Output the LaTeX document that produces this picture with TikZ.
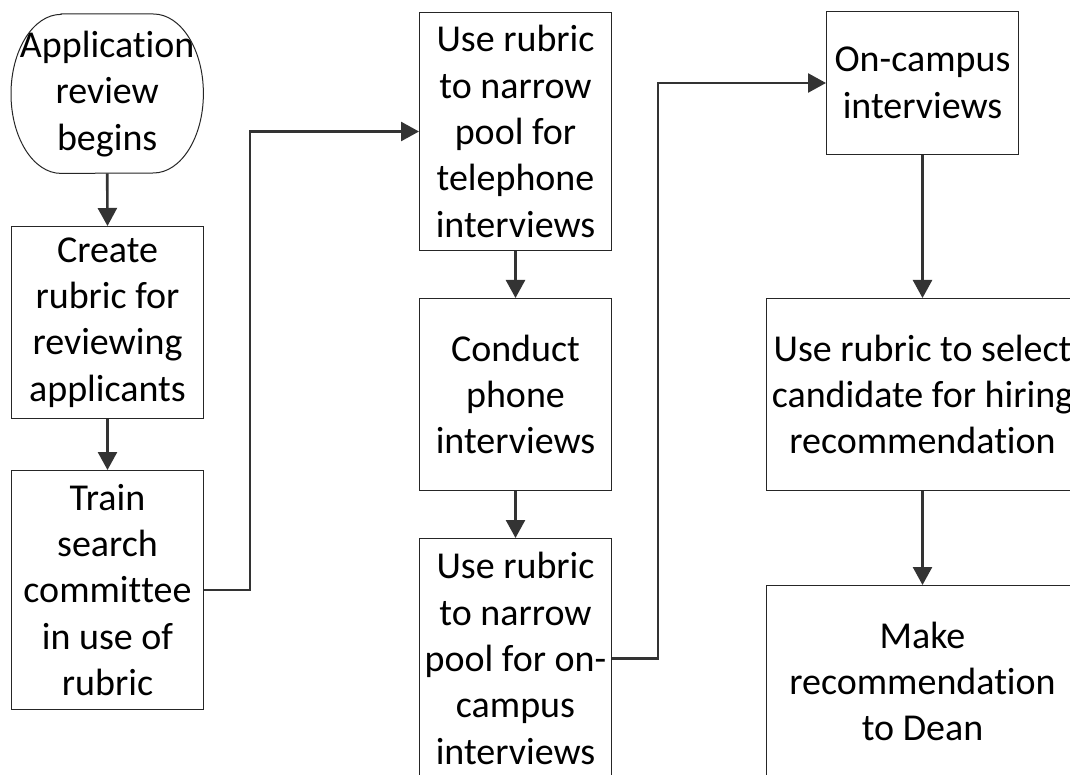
\documentclass[tikz,border=0pt]{standalone}
\usepackage{fontspec}
\setmainfont{Carlito}[Ligatures={NoCommon,NoRequired,NoContextual},Contextuals=NoAlternate]
\usetikzlibrary{arrows.meta}
\newcommand{\nolig}{\kern0pt{}}
\tikzset{
  stepbox/.style={draw=black!85, line width=1pt, rectangle, inner sep=0pt, anchor=north west,
    align=center, font=\fontsize{38pt}{46.4pt}\selectfont, text=black},
  termbox/.style={draw=none, rectangle, inner sep=0pt, anchor=north west,
    align=center, font=\fontsize{38pt}{46.4pt}\selectfont, text=black},
  termline/.style={draw=black!85, line width=1pt},
  arr/.style={draw=black!80, line width=2.6pt, -{Triangle[length=18pt,width=19pt]}},
}
\begin{document}
\begin{tikzpicture}[x=1pt,y=-1pt]
\path[use as bounding box] (0,0) rectangle (1070,775);
\clip (0,0) rectangle (1070,775);
\fill[white] (0,0) rectangle (1070,775);

% left column
\node[termbox, minimum width=192pt, minimum height=159pt] (t) at (11,14) {Applicat\nolig ion\\review\\begins};
\draw[termline] ([xshift=50pt]t.north west) -- ([xshift=-50pt]t.north east)
  arc[start angle=90, end angle=-90, x radius=50pt, y radius=79.5pt]
  -- ([xshift=50pt]t.south west)
  arc[start angle=270, end angle=90, x radius=50pt, y radius=79.5pt] -- cycle;
\node[stepbox, minimum width=192pt, minimum height=192pt] (b2) at (11,226) {Create\\rubric for\\reviewing\\applicants};
\node[stepbox, minimum width=192pt, minimum height=239pt] (b3) at (11,470) {Train\\search\\commit\nolig tee\\in use of\\rubric};

% middle column
\node[stepbox, minimum width=192pt, minimum height=238pt] (b4) at (419,12) {Use rubric\\to narrow\\pool for\\telephone\\interviews};
\node[stepbox, minimum width=192pt, minimum height=192pt] (b5) at (419,298) {Conduct\\phone\\interviews};
\node[stepbox, minimum width=192pt, minimum height=240pt] (b6) at (419,538) {Use rubric\\to narrow\\pool for on-\\campus\\interviews};

% right column
\node[stepbox, minimum width=192pt, minimum height=143pt] (b7) at (826,11) {On-campus\\interviews};
\node[stepbox, minimum width=312pt, minimum height=192pt] (b8) at (766,298) {Use rubric to select\\candidate for hiring\\recommendat\nolig ion};
\node[stepbox, minimum width=312pt, minimum height=192pt] (b9) at (766,585) {Make\\recommendat\nolig ion\\to Dean};

\coordinate (j1) at (250,0);
\coordinate (j2) at (658,0);

% connectors
\draw[arr] (t.south) -- (b2.north);
\draw[arr] (b2.south) -- (b3.north);
\draw[arr] (b3.east) -- (b3.east -| j1) |- (b4.west);
\draw[arr] (b4.south) -- (b5.north);
\draw[arr] (b5.south) -- (b6.north);
\draw[arr] (b6.east) -- (b6.east -| j2) |- (b7.west);
\draw[arr] (b7.south) -- (b8.north);
\draw[arr] (b8.south) -- (b9.north);
\end{tikzpicture}
\end{document}
